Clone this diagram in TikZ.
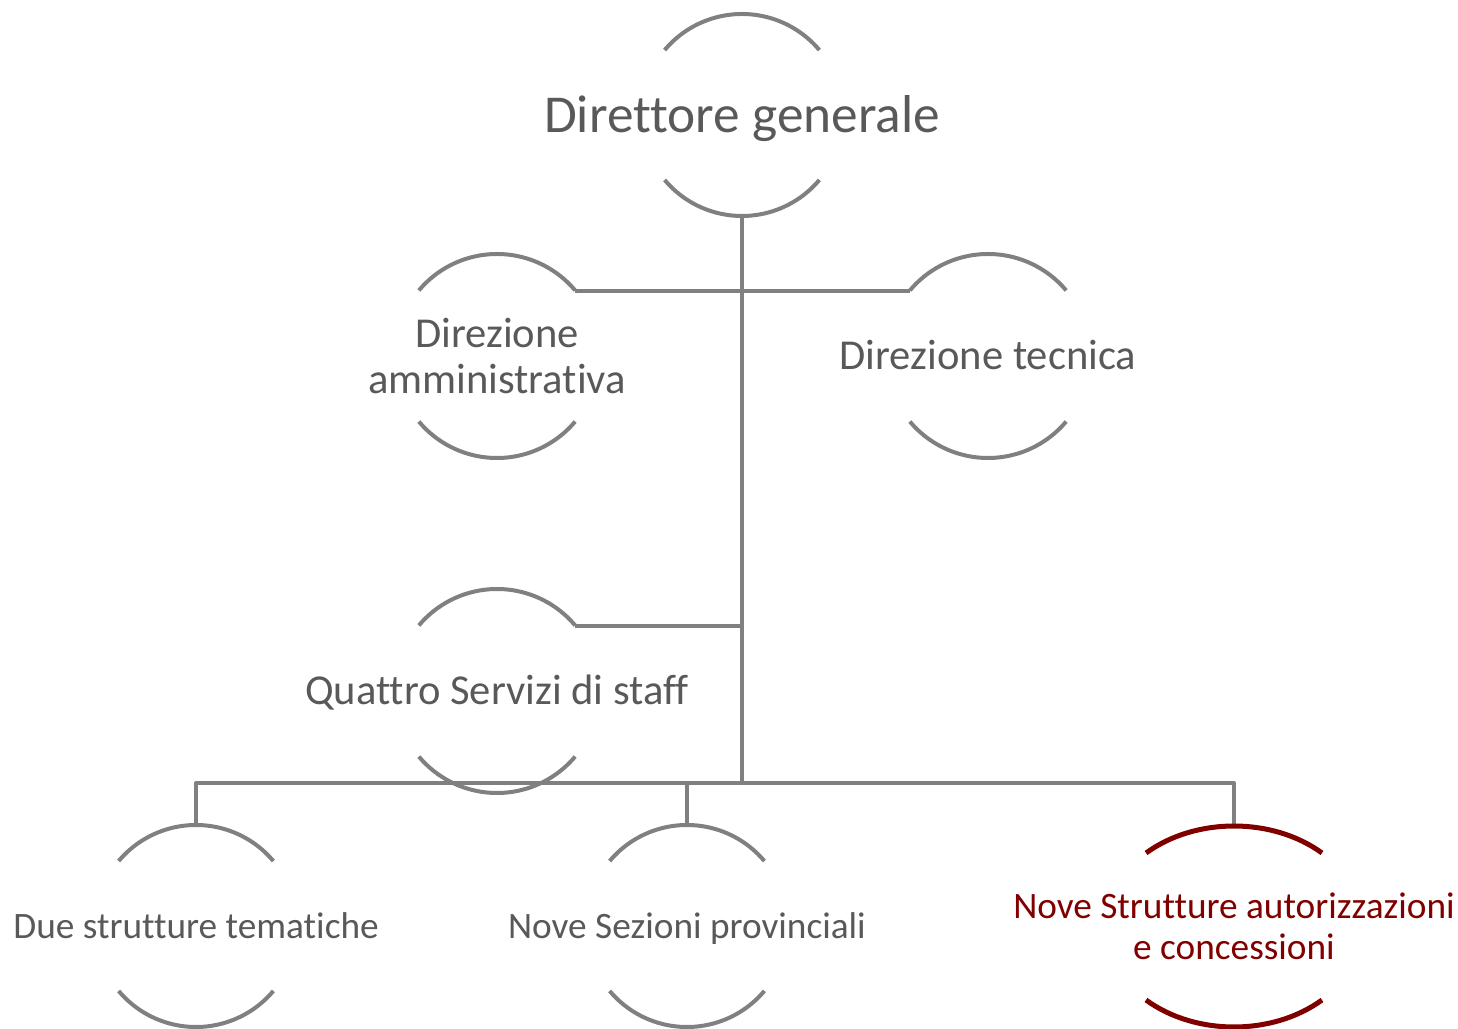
\documentclass[tikz,border=0pt]{standalone}
\usepackage{fontspec}
\setmainfont[Ligatures={NoCommon,NoRequired,NoContextual}]{Carlito}
\usetikzlibrary{calc}
\definecolor{lgray}{HTML}{808080}
\definecolor{tgray}{HTML}{595959}
\definecolor{dred}{HTML}{800000}
\tikzset{
  arcline/.style={draw=lgray, line width=4pt, line cap=butt},
  redarc/.style={draw=dred, line width=5pt, line cap=butt},
  conn/.style={draw=lgray, line width=4pt, line join=round},
  bigtxt/.style={text=tgray, align=center, inner sep=0pt, text height=34.2pt, text depth=0pt, font=\fontsize{53.3}{60}\selectfont},
  midtxt/.style={text=tgray, align=center, inner sep=0pt, font=\fontsize{42.6}{46}\selectfont},
  midone/.style={midtxt, text height=27.4pt, text depth=0pt},
  smalltxt/.style={text=tgray, align=center, inner sep=0pt, font=\fontsize{37.3}{41}\selectfont},
  smallone/.style={smalltxt, text height=24pt, text depth=0pt},
}
\newcommand{\circarcs}[2]{%
  \draw[arcline] ($(#1.center)+(40:#2)$) arc (40:140:#2);
  \draw[arcline] ($(#1.center)+(220:#2)$) arc (220:320:#2);
}
\begin{document}
\begin{tikzpicture}[x=1pt,y=1pt]
\useasboundingbox (0,0) rectangle (1458,1028);

% nodes
\node[bigtxt] (dg) at (742,913) {Direttore generale};
\node[midtxt] (da) at (497,672) {Direzione\\amministrativa};
\node[midone] (dt) at (988,672) {Direzione tecnica};
\node[midone] (qs) at (497,337) {Quattro Servizi di staff};
\node[smallone] (b1) at (196,102) {Due strutture tematiche};
\node[smallone] (b2) at (687,102) {Nove Sezioni provinciali};
\node[smalltxt, text=dred] (b3) at (1234,101.5) {Nove Strutture autorizzazioni\\e concessioni};

% connection points
\coordinate (dgS) at ($(dg.center)+(0,-101)$);
\coordinate (daT) at ($(da.center)+(0,-1)+(40:102)$);
\coordinate (dtT) at ($(dt.center)+(0,-1)+(140:102)$);
\coordinate (qsT) at ($(qs.center)+(0,-1)+(40:102)$);
\coordinate (b1N) at ($(b1.center)+(0,101)$);
\coordinate (b2N) at ($(b2.center)+(0,101)$);
\coordinate (b3N) at ($(b3.center)+(0,100.5)$);
\coordinate (bus) at (742,245);

% connectors
\draw[conn] (dgS) -- (bus);
\draw[conn] (daT) -- (dtT);
\draw[conn] (qsT) -- (qsT -| dgS);
\draw[conn] (b1N) |- (bus) -| (b3N);
\draw[conn] (b2N) -- (b2N |- bus);

% arcs
\circarcs{dg}{101}
\circarcs{da}{102}
\circarcs{dt}{102}
\circarcs{qs}{102}
\circarcs{b1}{101}
\circarcs{b2}{101}
\draw[redarc] ($(b3.center)+(88,73.5)$) arc[start angle=47, end angle=133, x radius=129, y radius=100.5];
\draw[redarc] ($(b3.center)+(-88,-73.5)$) arc[start angle=227, end angle=313, x radius=129, y radius=100.5];
\end{tikzpicture}
\end{document}
